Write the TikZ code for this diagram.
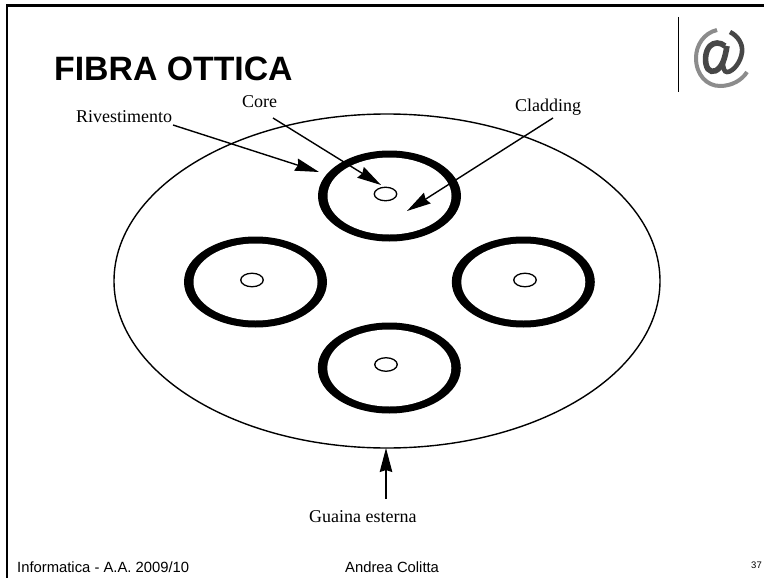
\documentclass[tikz,border=0pt]{standalone}
\usepackage{fontspec}
\setmainfont{Liberation Serif}
\newfontfamily\arialf{Liberation Sans}
\usetikzlibrary{arrows.meta,shapes.geometric}
\tikzset{
  x=1pt,y=-1pt,
  lbl/.style={inner sep=0pt,anchor=base west,font=\fontsize{18}{20}\selectfont},
  foot/.style={inner sep=0pt,anchor=base west,font=\arialf\fontsize{14.8}{16}\selectfont},
  ptr/.style={line width=1.4pt,-{Stealth[length=24pt,width=12.5pt,inset=2pt]}},
  guaina/.style={ellipse,draw,line width=1.4pt,inner sep=0pt,outer sep=0pt,minimum width=546pt,minimum height=334pt},
  fibra/.style={ellipse,fill=black,inner sep=0pt,outer sep=0pt,minimum width=143pt,minimum height=91pt},
  fibrain/.style={ellipse,fill=white,inner sep=0pt,outer sep=0pt,minimum width=124pt,minimum height=77pt},
  nucleo/.style={ellipse,draw,fill=white,line width=1.3pt,inner sep=0pt,outer sep=0pt,minimum width=22.5pt,minimum height=13.5pt},
  frameline/.style={line width=2.5pt},
}
\begin{document}
\begin{tikzpicture}
\useasboundingbox (0,0) rectangle (764,578);
\fill[white] (0,0) rectangle (764,578);
\draw[frameline] (7,578) -- (7,5.3) -- (764,5.3);
\draw[line width=1pt] (678,17) -- (678,92);
% @ icon
\draw[line width=4pt,black!45] (717,30) .. controls (704,33) and (696,45) .. (696,58) .. controls (696,75) and (707,86) .. (720,86) .. controls (732,86) and (742,80) .. (747,72);
\draw[line width=5.6pt,black!72] (725,46) .. controls (720,42) and (714,42) .. (710,46) .. controls (705,51) and (704,63) .. (708,69) .. controls (712,74) and (719,71) .. (723,62) .. controls (725,57) and (726,52) .. (727,46);
\draw[line width=4.6pt,black!72] (730,32) .. controls (738,36) and (743,44) .. (742,52) .. controls (741,62) and (733,72) .. (727,72) .. controls (724,72) and (723,68) .. (723,62);
% title
\node[inner sep=0pt,anchor=base west,font=\arialf\bfseries\fontsize{33.8}{36}\selectfont] (titolo) at (54,81) {FIBRA OTTICA};
% cable
\node[guaina] (cavo) at (387,281) {};
\node[fibra] (f1) at (389.5,196) {};
\node[fibrain] (g1) at (389.5,196) {};
\node[fibra] (f2) at (255.5,282) {};
\node[fibrain] (g2) at (255.5,282) {};
\node[fibra] (f3) at (523.3,282) {};
\node[fibrain] (g3) at (523.3,282) {};
\node[fibra] (f4) at (389.3,368) {};
\node[fibrain] (g4) at (389.3,368) {};
\node[nucleo] (n1) at (385.5,194) {};
\node[nucleo] (n2) at (252,280) {};
\node[nucleo] (n3) at (525,280) {};
\node[nucleo] (n4) at (386,364.5) {};
% labels
\node[lbl] (riv) at (76,122) {Rivestimento};
\node[lbl] (core) at (242,108) {Core};
\node[lbl] (cla) at (515,112) {Cladding};
\node[lbl] (gua) at (309,522) {Guaina esterna};
% pointers
\coordinate (a1) at (173,125); \coordinate (a1t) at (319,172);
\coordinate (a2) at (273,118); \coordinate (a2t) at (381,185);
\coordinate (a3) at (553,118); \coordinate (a3t) at (407,211);
\coordinate (a4) at (386,499); \coordinate (a4t) at (386,448);
\draw[ptr] (a1) -- (a1t);
\draw[ptr] (a2) -- (a2t);
\draw[ptr] (a3) -- (a3t);
\draw[ptr] (a4) -- (a4t);
% footer
\node[foot] (fa) at (17,572) {Informatica - A.A. 2009/10};
\node[foot] (fb) at (345,572) {Andrea Colitta};
\node[inner sep=0pt,anchor=base east,font=\arialf\fontsize{9.5}{10}\selectfont] (fc) at (762,568) {37};
\end{tikzpicture}
\end{document}
